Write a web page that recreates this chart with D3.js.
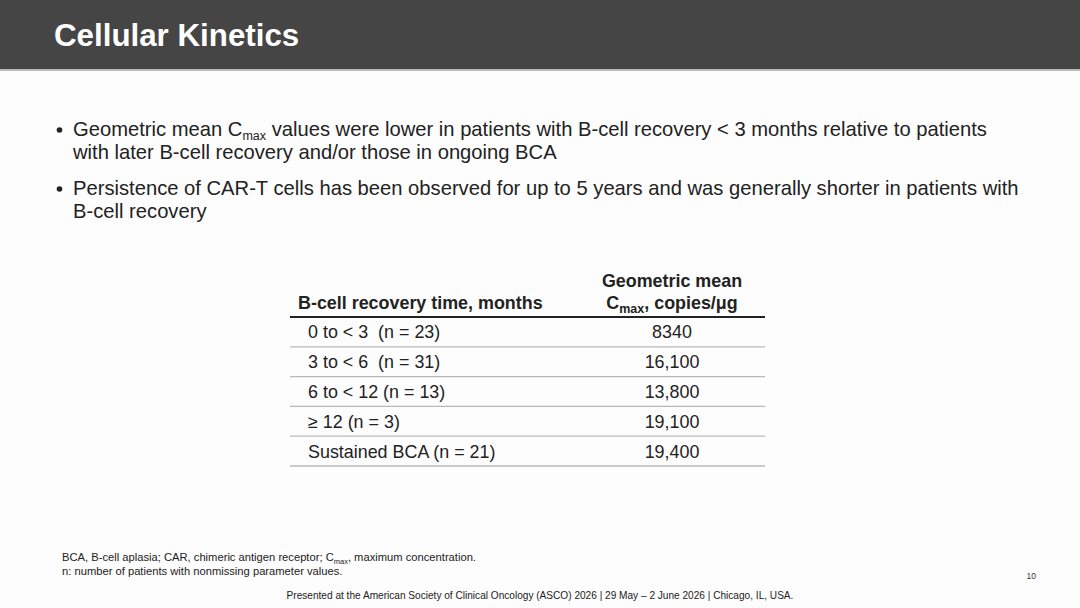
<!DOCTYPE html>
<html><head><meta charset="utf-8">
<script src="https://cdn.jsdelivr.net/npm/d3@7"></script>
<style>
html,body{margin:0;padding:0;background:#fdfdfd;}
svg{display:block;font-family:"Liberation Sans",Arial,sans-serif;}
text{white-space:pre;}
</style></head><body>
<script>
const title = "Cellular Kinetics";
const bullets = [
  ["Geometric mean C|max| values were lower in patients with B-cell recovery < 3 months relative to patients", "with later B-cell recovery and/or those in ongoing BCA"],
  ["Persistence of CAR-T cells has been observed for up to 5 years and was generally shorter in patients with", "B-cell recovery"]
];
const colHeader1 = "B-cell recovery time, months";
const colHeader2 = ["Geometric mean", "C|max|, copies/μg"];
const categories = ["0 to < 3  (n = 23)", "3 to < 6  (n = 31)", "6 to < 12 (n = 13)", "≥ 12 (n = 3)", "Sustained BCA (n = 21)"];
const values = [8340, 16100, 13800, 19100, 19400];
const footnotes = ["BCA, B-cell aplasia; CAR, chimeric antigen receptor; C|max|, maximum concentration.", "n: number of patients with nonmissing parameter values."];
const footer = "Presented at the American Society of Clinical Oncology (ASCO) 2026 | 29 May – 2 June 2026 | Chicago, IL, USA.";
const pageNum = "10";

const W = 1080, H = 608;
const svg = d3.select("body").append("svg").attr("width", W).attr("height", H);
svg.append("rect").attr("width", W).attr("height", H).attr("fill", "#fdfdfd");

// header band
svg.append("rect").attr("x",0).attr("y",0).attr("width",W).attr("height",69).attr("fill","#454545");
svg.append("rect").attr("x",0).attr("y",69).attr("width",W).attr("height",2).attr("fill","#bdbdbd");
svg.append("text").attr("x",54).attr("y",46).attr("fill","#fff").attr("font-size",31.3).attr("font-weight","bold").text(title);

// rich text helper: segments between | are subscript
function rich(sel, str, size, subSize, drop){
  const parts = str.split("|");
  parts.forEach((p,i)=>{
    if(!p) return;
    const t = sel.append("tspan").text(p);
    if(i%2===1){ t.attr("font-size",subSize).attr("dy", drop); }
    else if(i>0){ t.attr("dy", -drop); }
  });
}

// bullets
const bulletTop = [136, 195];
const bfs = 20.2;
bullets.forEach((b,i)=>{
  svg.append("circle").attr("cx",59.5).attr("cy",bulletTop[i]-6).attr("r",2.8).attr("fill","#222");
  b.forEach((line,j)=>{
    const t = svg.append("text").attr("x",73).attr("y",bulletTop[i]+j*23).attr("font-size",bfs).attr("fill","#222");
    rich(t, line, bfs, 12.5, 3.5);
  });
});

// table
const tx0 = 290, tx1 = 765, col2c = 672;
const tfs = 17.9;
const y = d3.scaleBand().domain(categories).range([317, 466]).paddingInner(0).paddingOuter(0);
const tbl = svg.append("g");
tbl.append("text").attr("x",298).attr("y",309).attr("font-size",tfs).attr("font-weight","bold").attr("fill","#222").text(colHeader1);
tbl.append("text").attr("x",col2c).attr("y",287).attr("text-anchor","middle").attr("font-size",tfs).attr("font-weight","bold").attr("fill","#222").text(colHeader2[0]);
const h2 = tbl.append("text").attr("x",col2c).attr("y",309).attr("text-anchor","middle").attr("font-size",tfs).attr("font-weight","bold").attr("fill","#222");
rich(h2, colHeader2[1], tfs, 12.5, 4);
tbl.append("line").attr("x1",tx0).attr("x2",tx1).attr("y1",317).attr("y2",317).attr("stroke","#222").attr("stroke-width",2.2);

const fmt = v => v >= 10000 ? d3.format(",")(v) : String(v);
const rows = tbl.selectAll("g.row").data(categories.map((c,i)=>({c, v: values[i]}))).join("g").attr("class","row");
rows.append("text").attr("x",308).attr("y",d=>y(d.c)+y.bandwidth()/2+6.5).attr("font-size",tfs).attr("fill","#222").text(d=>d.c);
rows.append("text").attr("x",col2c).attr("y",d=>y(d.c)+y.bandwidth()/2+6.5).attr("text-anchor","middle").attr("font-size",tfs).attr("fill","#222").text(d=>fmt(d.v));
rows.append("line").attr("x1",tx0).attr("x2",tx1).attr("y1",d=>y(d.c)+y.bandwidth()).attr("y2",d=>y(d.c)+y.bandwidth()).attr("stroke","#b8b8b8").attr("stroke-width",1.3);

// footnotes
footnotes.forEach((f,i)=>{
  const t = svg.append("text").attr("x",62).attr("y",561+i*14).attr("font-size",11.2).attr("fill","#222");
  rich(t, f, 11.2, 7.5, 2.5);
});
svg.append("text").attr("x",1036).attr("y",579).attr("text-anchor","end").attr("font-size",8.5).attr("fill","#333").text(pageNum);
svg.append("text").attr("x",540).attr("y",599).attr("text-anchor","middle").attr("font-size",10.1).attr("fill","#222").text(footer);
</script>
</body></html>
